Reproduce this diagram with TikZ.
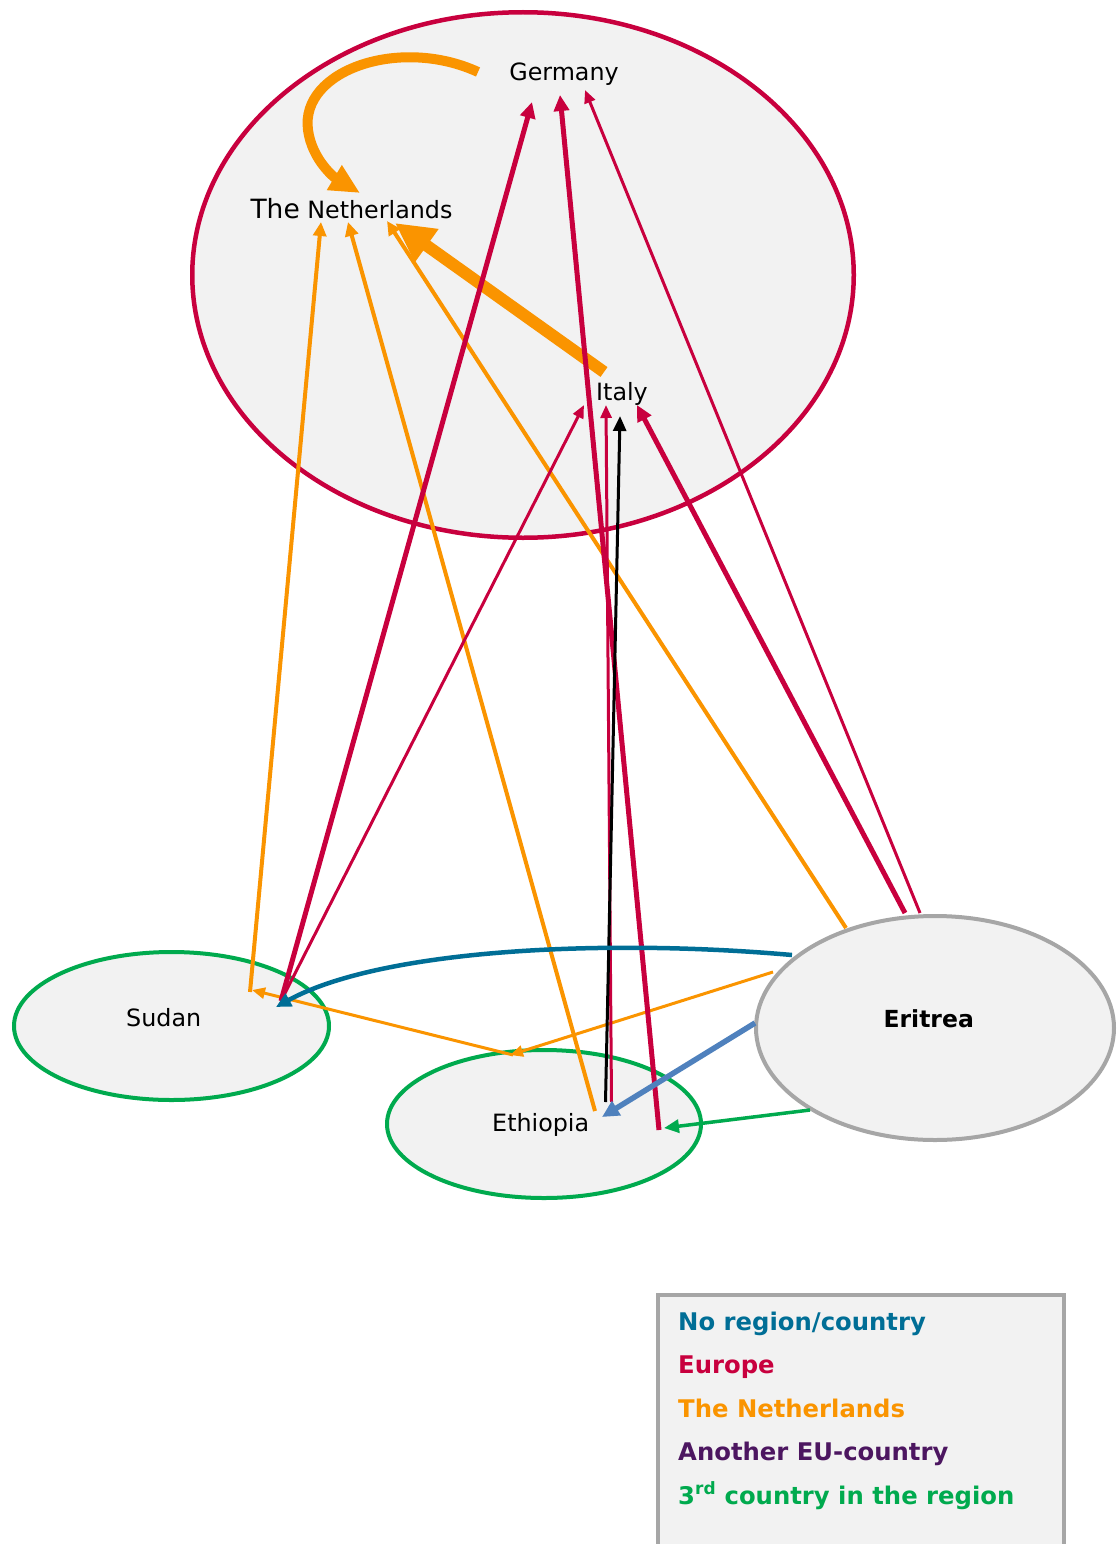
\documentclass[tikz,border=0pt]{standalone}
\usepackage{fontspec}
\setmainfont{DejaVu Sans}
\usetikzlibrary{arrows.meta,shapes.geometric}
\definecolor{crim}{RGB}{200,0,62}
\definecolor{orng}{RGB}{250,148,0}
\definecolor{teal}{RGB}{0,110,150}
\definecolor{lblue}{RGB}{79,129,189}
\definecolor{grn}{RGB}{0,170,78}
\definecolor{purp}{RGB}{76,22,96}
\definecolor{gry}{RGB}{166,166,166}
\definecolor{bgc}{RGB}{242,242,242}
\begin{document}
\begin{tikzpicture}[x=1pt,y=-1pt,
  region/.style={ellipse, fill=bgc, inner sep=0pt},
  lbl/.style={font=\fontsize{23.8}{28}\selectfont, text=black, inner sep=0pt, anchor=base},
  leg/.style={font=\fontsize{24.3}{28}\selectfont\bfseries, inner sep=0pt, anchor=base west},
  thinhead/.style={-{Triangle[length=13pt,width=11pt]}},
  medhead/.style={-{Triangle[length=14pt,width=13pt]}},
  thickhead/.style={-{Triangle[length=16pt,width=15pt]}},
  ornmed/.style={draw=orng, line width=4pt, medhead},
  ornthin/.style={draw=orng, line width=3pt, thinhead},
  crthick/.style={draw=crim, line width=5pt, thickhead},
  crthin/.style={draw=crim, line width=3pt, thinhead}
]
\useasboundingbox (0,0) rectangle (1116,1544);

% regions
\node[region, draw=crim, line width=4.5pt, minimum width=661.5pt, minimum height=525.5pt] (EU) at (523,275) {};
\node[region, draw=grn, line width=4pt, minimum width=315pt, minimum height=148pt] (SU) at (171.5,1026) {};
\node[region, draw=grn, line width=4pt, minimum width=314pt, minimum height=148pt] (ET) at (544,1124) {};
\node[region, draw=gry, line width=4pt, minimum width=358pt, minimum height=224pt] (ER) at (935,1028) {};

% labels
\node[lbl] (ge) at (564,81) {Germany};
\node[lbl] (nl) at (351.5,218) {{\fontsize{26.5}{30}\selectfont The} Netherlands};
\node[lbl] (it) at (622,400) {Italy};
\node[lbl] (su) at (163.7,1026.7) {Sudan};
\node[lbl] (et) at (540.7,1131.7) {Ethiopia};
\node[lbl, font=\fontsize{23.5}{28}\selectfont\bfseries] (er) at (928.7,1027.7) {Eritrea};

% connector end points
\coordinate (geA) at (532,102);
\coordinate (geB) at (560,95);
\coordinate (geC) at (585,90);
\coordinate (geL) at (478,72);
\coordinate (nlA) at (321,222);
\coordinate (nlB) at (348,222);
\coordinate (nlC) at (387,221);
\coordinate (nlD) at (395,223);
\coordinate (nlT) at (360,193);
\coordinate (itA) at (584,405);
\coordinate (itB) at (606,405);
\coordinate (itC) at (620,416);
\coordinate (itD) at (637,405);
\coordinate (itS) at (604,372);
\coordinate (suA) at (250,992);
\coordinate (suB) at (281,1001);
\coordinate (suC) at (252,990);
\coordinate (suD) at (276,1007);
\coordinate (etA) at (595,1111);
\coordinate (etB) at (605.5,1102);
\coordinate (etC) at (611.5,1102);
\coordinate (etD) at (659,1130);
\coordinate (etE) at (602,1117);
\coordinate (etF) at (664,1128);
\coordinate (etG) at (510,1055);
\coordinate (etH) at (513,1055);
\coordinate (erA) at (846,928);
\coordinate (erB) at (905,913);
\coordinate (erC) at (920,913);
\coordinate (erD) at (792,955);
\coordinate (erE) at (773,972);
\coordinate (erF) at (755,1023);
\coordinate (erG) at (810,1110);

% orange (The Netherlands)
\draw[draw=orng, line width=10pt, -{Triangle[length=30pt,width=27pt]}]
  (geL) .. controls (400,36) and (300,70) .. (308,130) .. controls (312,160) and (335,178) .. (nlT);
\draw[draw=orng, line width=12pt, -{Triangle[length=39pt,width=38pt]}] (itS) -- (nlD);
\draw[ornmed] (suA) -- (nlA);
\draw[ornmed] (etA) -- (nlB);
\draw[ornmed] (erA) -- (nlC);
\draw[ornthin] (erE) -- (etG);
\draw[ornthin] (etH) -- (suC);

% crimson (Europe)
\draw[crthick] (suB) -- (geA);
\draw[crthick] (etD) -- (geB);
\draw[crthick] (erB) -- (itD);
\draw[crthin] (erC) -- (geC);
\draw[crthin] (suB) -- (itA);
\draw[crthin] (etC) -- (itB);

% black
\draw[draw=black, line width=3pt, -{Triangle[length=15pt,width=13pt]}] (etB) -- (itC);

% teal (no region)
\draw[draw=teal, line width=4.5pt, -{Triangle[length=15pt,width=14pt]}]
  (erD) .. controls (600,938) and (380,950) .. (suD);

% light blue
\draw[draw=lblue, line width=5.5pt, -{Triangle[length=17pt,width=16pt]}] (erF) -- (etE);

% green (3rd country)
\draw[draw=grn, line width=3.5pt, -{Triangle[length=15pt,width=13pt]}] (erG) -- (etF);

% legend
\node[draw=gry, line width=3.5pt, fill=bgc, inner sep=0pt, anchor=north west,
      minimum width=406pt, minimum height=300pt] (legend) at (656,1293) {};
\node[leg, text=teal] (l1) at (678,1330) {No region/country};
\node[leg, text=crim] (l2) at (678,1373.5) {Europe};
\node[leg, text=orng] (l3) at (678,1417) {The Netherlands};
\node[leg, text=purp] (l4) at (678,1460) {Another EU-country};
\node[leg, text=grn] (l5) at (678,1504) {3\textsuperscript{rd} country in the region};
\end{tikzpicture}
\end{document}
